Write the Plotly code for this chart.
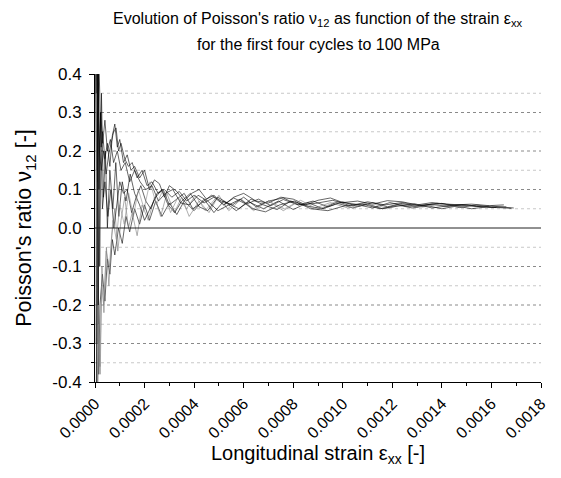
import plotly.graph_objects as go

# strain in microstrain (x 1e-6), Poisson's ratio values
c1_x = [5, 10, 15, 20, 25, 30, 40, 50, 60, 70, 80, 90, 100, 115, 130, 145, 160, 180, 200, 220, 240, 260, 280, 300, 330, 360, 390, 420, 450, 480, 520, 560, 600, 650, 700, 750, 800, 850, 900, 950, 1000, 1060, 1120, 1180, 1240, 1300, 1360, 1420, 1480, 1540, 1600, 1650, 1690]
c1_y = [0.55, 0.12, 0.45, 0.30, 0.21, 0.25, 0.18, 0.22, 0.16, 0.24, 0.27, 0.21, 0.23, 0.17, 0.19, 0.15, 0.16, 0.13, 0.15, 0.10, 0.125, 0.115, 0.08, 0.11, 0.095, 0.07, 0.09, 0.1, 0.075, 0.085, 0.06, 0.08, 0.09, 0.07, 0.065, 0.08, 0.075, 0.06, 0.072, 0.078, 0.066, 0.07, 0.062, 0.071, 0.068, 0.06, 0.066, 0.062, 0.06, 0.056, 0.057, 0.054, 0.052]

c2_x = [5, 10, 15, 20, 30, 40, 50, 60, 70, 80, 95, 110, 125, 140, 160, 180, 200, 220, 245, 270, 300, 330, 360, 400, 440, 480, 520, 570, 620, 680, 740, 800, 860, 920, 980, 1040, 1100, 1160, 1220, 1280, 1340, 1400, 1460, 1520, 1580, 1620]
c2_y = [-0.5, 0.3, -0.38, -0.2, -0.12, -0.19, -0.08, -0.12, -0.03, -0.07, 0.0, -0.04, 0.03, -0.01, 0.05, 0.01, 0.06, 0.02, 0.07, 0.03, 0.065, 0.035, 0.07, 0.045, 0.075, 0.04, 0.07, 0.045, 0.068, 0.05, 0.07, 0.048, 0.066, 0.05, 0.064, 0.052, 0.062, 0.05, 0.06, 0.052, 0.058, 0.05, 0.057, 0.05, 0.055, 0.053]

c3_x = [3, 8, 12, 18, 25, 35, 45, 55, 65, 75, 85, 95, 105, 120, 135, 150, 170, 190, 210, 230, 255, 280, 310, 340, 370, 400, 440, 480, 520, 560, 610, 660, 710, 760, 820, 880, 940, 1000, 1060, 1120, 1180, 1240, 1300, 1360, 1420, 1480, 1540, 1590]
c3_y = [0.6, -0.3, 0.4, 0.2, 0.15, 0.2, 0.14, 0.19, 0.22, 0.25, 0.26, 0.2, 0.22, 0.18, 0.16, 0.17, 0.13, 0.15, 0.11, 0.12, 0.09, 0.1, 0.08, 0.095, 0.07, 0.085, 0.065, 0.08, 0.06, 0.078, 0.062, 0.075, 0.058, 0.074, 0.06, 0.07, 0.055, 0.068, 0.056, 0.066, 0.055, 0.064, 0.055, 0.062, 0.056, 0.06, 0.057, 0.058]

c4_x = [4, 9, 14, 20, 28, 36, 46, 56, 68, 80, 92, 105, 120, 135, 150, 170, 190, 215, 240, 265, 290, 320, 350, 380, 420, 460, 500, 540, 590, 640, 700, 760, 820, 880, 950, 1020, 1090, 1160, 1230, 1300, 1370, 1440, 1510]
c4_y = [0.5, -0.45, -0.3, -0.36, -0.1, -0.22, -0.05, -0.15, -0.02, 0.05, -0.06, 0.02, 0.08, 0.0, 0.04, -0.02, 0.06, 0.02, 0.08, 0.03, 0.09, 0.04, 0.08, 0.03, 0.07, 0.04, 0.085, 0.045, 0.075, 0.05, 0.07, 0.045, 0.068, 0.05, 0.066, 0.052, 0.064, 0.05, 0.062, 0.055, 0.06, 0.056, 0.058]

c5_x = [6, 11, 16, 22, 30, 40, 52, 64, 76, 88, 100, 115, 130, 148, 166, 185, 205, 225, 250, 275, 300, 330, 360, 395, 430, 470, 510, 555, 600, 650, 700, 760, 820, 890, 960, 1030, 1100, 1170, 1240, 1310, 1380, 1450, 1520, 1590, 1650]
c5_y = [-0.6, 0.5, 0.1, 0.3, 0.05, 0.12, 0.03, 0.1, 0.0, 0.06, 0.12, 0.09, 0.1, 0.04, 0.08, 0.11, 0.07, 0.05, 0.09, 0.1, 0.06, 0.075, 0.09, 0.05, 0.065, 0.085, 0.07, 0.06, 0.08, 0.055, 0.07, 0.078, 0.06, 0.064, 0.072, 0.058, 0.068, 0.06, 0.066, 0.058, 0.064, 0.06, 0.062, 0.058, 0.06]

c6_x = [2, 7, 13, 19, 26, 34, 42, 50, 60, 72, 84, 96, 110, 125, 142, 160, 180, 200, 222, 245, 270, 295, 322, 350, 385, 420, 455, 495, 535, 580, 630, 680, 735, 790, 850, 915, 980, 1050, 1120, 1190, 1260, 1330, 1400, 1470, 1540, 1600, 1660]
c6_y = [0.45, 0.15, 0.55, -0.1, 0.35, 0.08, 0.2, 0.0, 0.15, 0.05, 0.17, 0.03, 0.12, 0.07, 0.14, 0.09, 0.06, 0.02, 0.05, 0.08, 0.1, 0.06, 0.04, 0.07, 0.09, 0.055, 0.045, 0.08, 0.065, 0.05, 0.075, 0.06, 0.048, 0.07, 0.058, 0.05, 0.068, 0.062, 0.052, 0.066, 0.056, 0.06, 0.064, 0.053, 0.06, 0.054, 0.055]

c7_x = [3, 6, 10, 15, 21, 27, 35, 45, 58, 72, 86, 100, 118, 136, 155, 175, 198, 222, 248, 275, 305, 335, 370, 405, 445, 490, 535, 585, 640, 700, 765, 830, 900, 970, 1040, 1110, 1180, 1250, 1320, 1390, 1460, 1530, 1600]
c7_y = [-0.3, 0.6, -0.5, -0.25, -0.38, -0.15, -0.2, -0.06, -0.1, 0.02, -0.03, 0.06, 0.01, 0.09, 0.03, 0.1, 0.05, 0.12, 0.06, 0.1, 0.04, 0.08, 0.05, 0.085, 0.045, 0.08, 0.05, 0.075, 0.045, 0.07, 0.05, 0.072, 0.048, 0.068, 0.052, 0.066, 0.05, 0.064, 0.054, 0.062, 0.055, 0.06, 0.057]

c8_x = [5, 9, 13, 17, 23, 31, 40, 50, 62, 75, 90, 105, 122, 140, 160, 182, 205, 230, 256, 284, 314, 346, 380, 416, 455, 496, 540, 586, 635, 688, 745, 805, 870, 940, 1010, 1080, 1150, 1220, 1290, 1360, 1430, 1500, 1570, 1630, 1680]
c8_y = [0.35, 0.6, -0.2, 0.2, 0.3, 0.22, 0.28, 0.2, 0.23, 0.17, 0.2, 0.15, 0.17, 0.12, 0.15, 0.12, 0.1, 0.11, 0.07, 0.09, 0.1, 0.065, 0.06, 0.085, 0.07, 0.045, 0.06, 0.075, 0.05, 0.042, 0.06, 0.07, 0.05, 0.045, 0.058, 0.062, 0.05, 0.056, 0.063, 0.052, 0.058, 0.06, 0.054, 0.053, 0.051]

curves = [(c1_x, c1_y), (c2_x, c2_y), (c3_x, c3_y), (c4_x, c4_y),
          (c5_x, c5_y), (c6_x, c6_y), (c7_x, c7_y), (c8_x, c8_y)]
curve_colors = ["#000000", "#000000", "#000000", "#777777",
                "#000000", "#000000", "#888888", "#000000"]

x_ticks = [0.0, 0.0002, 0.0004, 0.0006, 0.0008, 0.0010, 0.0012, 0.0014, 0.0016, 0.0018]
x_tick_labels = ["0.0000", "0.0002", "0.0004", "0.0006", "0.0008", "0.0010", "0.0012", "0.0014", "0.0016", "0.0018"]
x_minor = [0.0001, 0.0003, 0.0005, 0.0007, 0.0009, 0.0011, 0.0013, 0.0015, 0.0017]
y_ticks = [-0.4, -0.3, -0.2, -0.1, 0.0, 0.1, 0.2, 0.3, 0.4]
y_tick_labels = ["-0.4", "-0.3", "-0.2", "-0.1", "0.0", "0.1", "0.2", "0.3", "0.4"]
major_grid = [-0.3, -0.2, -0.1, 0.1, 0.2, 0.3]
minor_grid = [-0.35, -0.25, -0.15, -0.05, 0.05, 0.15, 0.25, 0.35]

FONT = "Arial, Liberation Sans, sans-serif"

fig = go.Figure()
for (xs, ys), col in zip(curves, curve_colors):
    n = min(len(xs), len(ys))
    fig.add_trace(go.Scatter(
        x=[v * 1e-6 for v in xs[:n]], y=ys[:n], mode="lines",
        line=dict(color=col, width=0.6), showlegend=False, hoverinfo="skip"))

shapes = []
for g in minor_grid:
    shapes.append(dict(type="line", xref="x", yref="y", x0=0, x1=0.0018, y0=g, y1=g,
                       line=dict(color="#c8c8c8", width=1, dash="dot"), layer="below"))
for g in major_grid:
    shapes.append(dict(type="line", xref="x", yref="y", x0=0, x1=0.0018, y0=g, y1=g,
                       line=dict(color="#8a8a8a", width=1, dash="3px,3px"), layer="below"))
shapes.append(dict(type="line", xref="x", yref="y", x0=0, x1=0.0018, y0=0, y1=0,
                   line=dict(color="#222222", width=1), layer="above"))

fig.update_layout(
    width=561, height=478,
    margin=dict(l=95, r=18, t=74, b=96),
    paper_bgcolor="white", plot_bgcolor="white",
    font=dict(family=FONT, color="black"),
    shapes=shapes,
    annotations=[
        dict(text="Evolution of Poisson's ratio ν<sub>12</sub> as function of the strain ε<sub>xx</sub>",
             xref="paper", yref="paper", x=0.5, y=1.178, showarrow=False,
             font=dict(size=16, family=FONT), xanchor="center", yanchor="middle"),
        dict(text="for the first four cycles to 100 MPa",
             xref="paper", yref="paper", x=0.5, y=1.096, showarrow=False,
             font=dict(size=16, family=FONT), xanchor="center", yanchor="middle"),
    ],
)
fig.update_xaxes(
    range=[0, 0.0018], tickvals=x_ticks, ticktext=x_tick_labels, tickangle=-45,
    showline=True, linecolor="black", linewidth=1, mirror=False,
    ticks="outside", ticklen=5, tickcolor="black", showgrid=False, zeroline=False,
    tickfont=dict(size=16, family=FONT),
    minor=dict(tickvals=x_minor, ticks="outside", ticklen=3, tickcolor="black", showgrid=False),
    title=dict(text="Longitudinal strain ε<sub>xx</sub> [-]", font=dict(size=20, family=FONT), standoff=0),
)
fig.update_yaxes(
    range=[-0.4, 0.4], tickvals=y_ticks, ticktext=y_tick_labels,
    showline=True, linecolor="black", linewidth=1, mirror=False,
    ticks="outside", ticklen=5, tickcolor="black", showgrid=False, zeroline=False,
    tickfont=dict(size=17, family=FONT), ticklabelstandoff=4,
    minor=dict(tickvals=minor_grid, ticks="outside", ticklen=3, tickcolor="black", showgrid=False),
    title=dict(text="Poisson's ratio ν<sub>12</sub> [-]", font=dict(size=21.5, family=FONT), standoff=14),
)

fig.write_html("out.html")
